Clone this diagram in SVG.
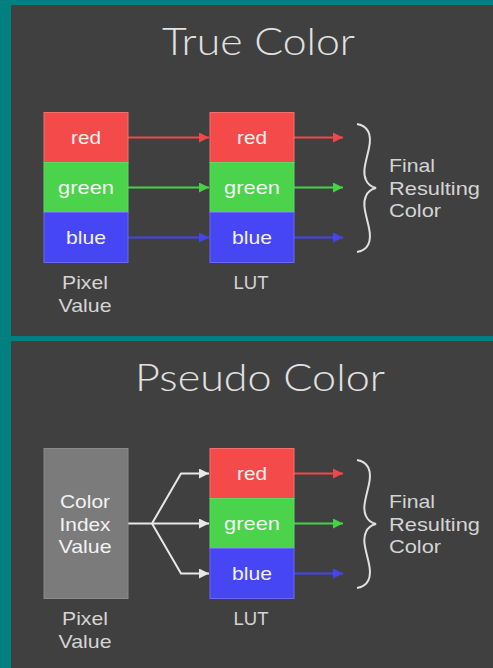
<svg xmlns="http://www.w3.org/2000/svg" width="493" height="668" viewBox="0 0 493 668">
<style>
.panel{fill:#404040}
.title{font-family:"Lato","Roboto","Liberation Sans",sans-serif;font-weight:300;font-size:37px;fill:#e2e2e2;text-anchor:middle}
.lbl{font-family:"Liberation Sans","DejaVu Sans",sans-serif;font-size:19px;fill:#f2f2f2;text-anchor:middle}
.cap{font-family:"Liberation Sans","DejaVu Sans",sans-serif;font-size:19px;fill:#d4d4d4;text-anchor:middle}
.fin{font-family:"Liberation Sans","DejaVu Sans",sans-serif;font-size:19px;fill:#d4d4d4}
.r{fill:#f54a4a;stroke:#f07070;stroke-width:1}
.g{fill:#4bd34b;stroke:#60d860;stroke-width:1}
.b{fill:#4646f5;stroke:#6868f0;stroke-width:1}
.gray{fill:#7b7b7b;stroke:#8a8a8a;stroke-width:1}
.ar{stroke:#f04848;stroke-width:2;fill:none}
.ag{stroke:#48d048;stroke-width:2;fill:none}
.ab{stroke:#4444f0;stroke-width:2;fill:none}
.aw{stroke:#e8e8e8;stroke-width:2;fill:none;stroke-linejoin:round}
.brace{stroke:#e0e0e0;stroke-width:2;fill:none}
</style>
<defs>
<marker id="mr" viewBox="0 0 10 10" refX="10" refY="5" markerWidth="5.5" markerHeight="5" markerUnits="strokeWidth" orient="auto"><path d="M0,0 L10,5 L0,10 z" fill="#f04848"/></marker>
<marker id="mg" viewBox="0 0 10 10" refX="10" refY="5" markerWidth="5.5" markerHeight="5" markerUnits="strokeWidth" orient="auto"><path d="M0,0 L10,5 L0,10 z" fill="#48d048"/></marker>
<marker id="mb" viewBox="0 0 10 10" refX="10" refY="5" markerWidth="5.5" markerHeight="5" markerUnits="strokeWidth" orient="auto"><path d="M0,0 L10,5 L0,10 z" fill="#4444f0"/></marker>
<marker id="mw" viewBox="0 0 10 10" refX="10" refY="5" markerWidth="5.5" markerHeight="5" markerUnits="strokeWidth" orient="auto"><path d="M0,0 L10,5 L0,10 z" fill="#e8e8e8"/></marker>
<path id="brace" d="M357,124 C368,126 372,134 369,148 C366,162 362,172 366,180 C368,185 372,187 376,188 C372,189 368,191 366,196 C362,204 366,214 369,228 C372,242 368,250 357,252"/>
</defs>
<rect x="0" y="0" width="493" height="668" fill="#008080"/>
<rect class="panel" x="11" y="5" width="482" height="331"/>
<rect class="panel" x="11" y="341" width="482" height="327"/>

<text class="title" x="258.5" y="55" textLength="193" lengthAdjust="spacingAndGlyphs">True Color</text>
<text class="title" x="260" y="391" textLength="250" lengthAdjust="spacingAndGlyphs">Pseudo Color</text>

<g id="connectors">
<line class="ar" x1="128" y1="137.5" x2="209" y2="137.5" marker-end="url(#mr)"/>
<line class="ag" x1="128" y1="187.5" x2="209" y2="187.5" marker-end="url(#mg)"/>
<line class="ab" x1="128" y1="237.5" x2="209" y2="237.5" marker-end="url(#mb)"/>
<line class="ar" x1="294" y1="137.5" x2="343" y2="137.5" marker-end="url(#mr)"/>
<line class="ag" x1="294" y1="187.5" x2="343" y2="187.5" marker-end="url(#mg)"/>
<line class="ab" x1="294" y1="237.5" x2="343" y2="237.5" marker-end="url(#mb)"/>
<polyline class="aw" points="128,523.5 152,523.5 181,473.5 209,473.5" marker-end="url(#mw)"/>
<line class="aw" x1="152" y1="523.5" x2="209" y2="523.5" marker-end="url(#mw)"/>
<polyline class="aw" points="152,523.5 181,573.5 209,573.5" marker-end="url(#mw)"/>
<line class="ar" x1="294" y1="473.5" x2="343" y2="473.5" marker-end="url(#mr)"/>
<line class="ag" x1="294" y1="523.5" x2="343" y2="523.5" marker-end="url(#mg)"/>
<line class="ab" x1="294" y1="573.5" x2="343" y2="573.5" marker-end="url(#mb)"/>
<use href="#brace" class="brace"/>
<use href="#brace" class="brace" transform="translate(0,336)"/>
</g>

<g id="pixel-true">
<rect class="r" x="44" y="112.5" width="84" height="50"/>
<rect class="g" x="44" y="162.5" width="84" height="50"/>
<rect class="b" x="44" y="212.5" width="84" height="50"/>
<text class="lbl" x="86" y="144" textLength="30" lengthAdjust="spacingAndGlyphs">red</text>
<text class="lbl" x="86" y="194" textLength="56" lengthAdjust="spacingAndGlyphs">green</text>
<text class="lbl" x="86" y="244" textLength="40" lengthAdjust="spacingAndGlyphs">blue</text>
<text class="cap" x="85" y="289" textLength="46" lengthAdjust="spacingAndGlyphs">Pixel</text>
<text class="cap" x="85" y="312" textLength="53" lengthAdjust="spacingAndGlyphs">Value</text>
</g>

<g id="lut-true">
<rect class="r" x="210" y="112.5" width="84" height="50"/>
<rect class="g" x="210" y="162.5" width="84" height="50"/>
<rect class="b" x="210" y="212.5" width="84" height="50"/>
<text class="lbl" x="252" y="144" textLength="30" lengthAdjust="spacingAndGlyphs">red</text>
<text class="lbl" x="252" y="194" textLength="56" lengthAdjust="spacingAndGlyphs">green</text>
<text class="lbl" x="252" y="244" textLength="40" lengthAdjust="spacingAndGlyphs">blue</text>
<text class="cap" x="251" y="289" textLength="35" lengthAdjust="spacingAndGlyphs">LUT</text>
</g>

<g id="result-true">
<text class="fin" x="389" y="172" textLength="46" lengthAdjust="spacingAndGlyphs">Final</text>
<text class="fin" x="389" y="195" textLength="91" lengthAdjust="spacingAndGlyphs">Resulting</text>
<text class="fin" x="389" y="217" textLength="52" lengthAdjust="spacingAndGlyphs">Color</text>
</g>

<g id="pixel-pseudo">
<rect class="gray" x="44" y="448.5" width="84" height="150"/>
<text class="lbl" x="85" y="508" textLength="50" lengthAdjust="spacingAndGlyphs">Color</text>
<text class="lbl" x="85" y="531" textLength="51" lengthAdjust="spacingAndGlyphs">Index</text>
<text class="lbl" x="85" y="553" textLength="53" lengthAdjust="spacingAndGlyphs">Value</text>
<text class="cap" x="85" y="625" textLength="46" lengthAdjust="spacingAndGlyphs">Pixel</text>
<text class="cap" x="85" y="648" textLength="53" lengthAdjust="spacingAndGlyphs">Value</text>
</g>

<g id="lut-pseudo">
<rect class="r" x="210" y="448.5" width="84" height="50"/>
<rect class="g" x="210" y="498.5" width="84" height="50"/>
<rect class="b" x="210" y="548.5" width="84" height="50"/>
<text class="lbl" x="252" y="480" textLength="30" lengthAdjust="spacingAndGlyphs">red</text>
<text class="lbl" x="252" y="530" textLength="56" lengthAdjust="spacingAndGlyphs">green</text>
<text class="lbl" x="252" y="580" textLength="40" lengthAdjust="spacingAndGlyphs">blue</text>
<text class="cap" x="251" y="625" textLength="35" lengthAdjust="spacingAndGlyphs">LUT</text>
</g>

<g id="result-pseudo">
<text class="fin" x="389" y="508" textLength="46" lengthAdjust="spacingAndGlyphs">Final</text>
<text class="fin" x="389" y="531" textLength="91" lengthAdjust="spacingAndGlyphs">Resulting</text>
<text class="fin" x="389" y="553" textLength="52" lengthAdjust="spacingAndGlyphs">Color</text>
</g>
</svg>
